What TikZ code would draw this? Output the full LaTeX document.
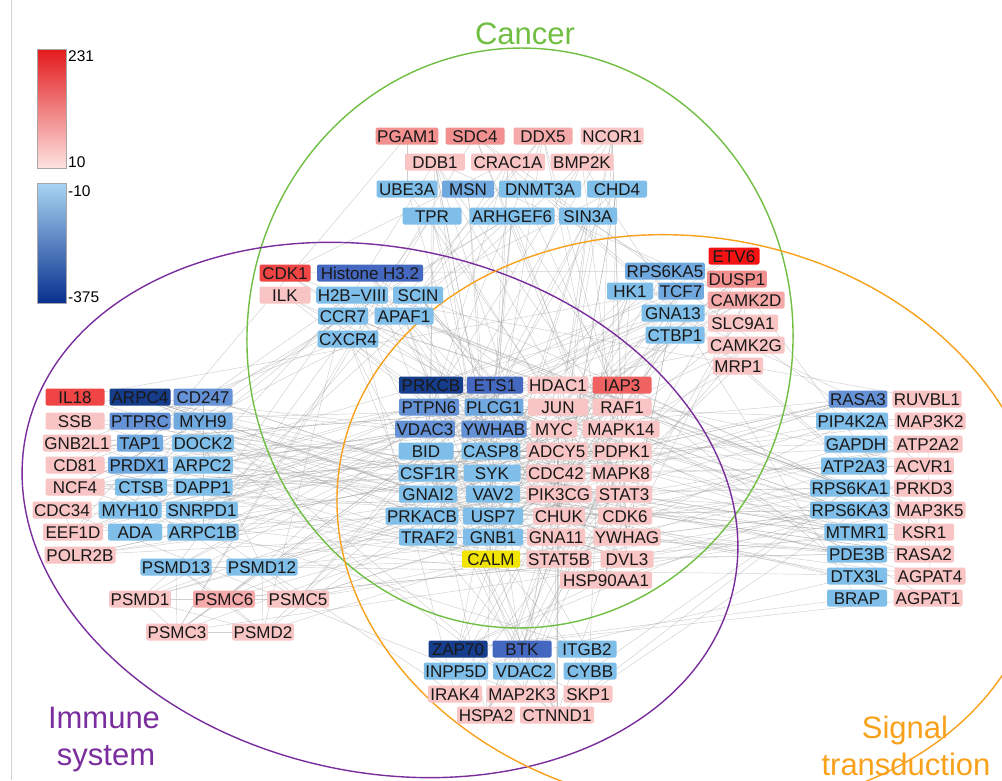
\documentclass[tikz,border=0pt]{standalone}
\usepackage{fontspec}
\setmainfont{Liberation Sans}
\pgfdeclarelayer{edgelayer}
\pgfdeclarelayer{ringlayer}
\pgfsetlayers{edgelayer,ringlayer,main}
\definecolor{clb}{HTML}{7EBEE9}
\definecolor{cmbl}{HTML}{70A8E0}
\definecolor{cmb}{HTML}{6592D6}
\definecolor{cdb}{HTML}{4467BF}
\definecolor{cxb}{HTML}{163C8C}
\definecolor{clp}{HTML}{F9C4C4}
\definecolor{cmp}{HTML}{F5A9A9}
\definecolor{csp}{HTML}{F29090}
\definecolor{crd}{HTML}{EF4545}
\definecolor{crdb}{HTML}{F06262}
\definecolor{cbrd}{HTML}{F41212}
\definecolor{cyl}{HTML}{F0E400}
\definecolor{cgreen}{HTML}{70BF43}
\definecolor{cpurple}{HTML}{7A2E9E}
\definecolor{corange}{HTML}{F9A11B}
\definecolor{cedge}{HTML}{A0A0A0}
\definecolor{legredtop}{HTML}{E31A1C}
\definecolor{legredbot}{HTML}{FDE3E1}
\definecolor{legbluetop}{HTML}{A8D4F2}
\definecolor{legbluebot}{HTML}{08308F}
\newcommand\genefont{\fontsize{17}{17}\selectfont}
\newcommand\legfont{\fontsize{15.5}{15.5}\selectfont}
\newcommand\titfont{\fontsize{31}{31}\selectfont}
\begin{document}
\begin{tikzpicture}[x=1pt,y=-1pt,
  gbox/.style={rounded corners=2pt, inner xsep=1.5pt, inner ysep=0pt,
    minimum height=17pt, text height=12.2pt, text depth=0pt,
    font=\genefont, text=black!90},
  edge/.style={draw=cedge, line width=0.45pt, opacity=0.5},
  ring/.style={line width=1.4pt},
  legbar/.style={draw=gray!70, line width=0.6pt},
  leglbl/.style={font=\legfont, anchor=west, inner sep=0pt},
  title/.style={font=\titfont, anchor=base, inner sep=0pt}]
\useasboundingbox (0,0) rectangle (1002,780);
\begin{pgfonlayer}{edgelayer}
\fill[white] (0,0) rectangle (1002,780);
\end{pgfonlayer}
% ---------------- gene nodes ----------------
\foreach \nm/\px/\py/\w/\c/\t [count=\i] in {
PRKCB/431/385/64/cxb/PRKCB, ETS1/495/385/56/cdb/ETS1, HDAC1/558/385/60/clp/HDAC1, IAP3/622/385/59/crdb/IAP3,
PTPN6/429/407/60/cmb/PTPN6, PLCG1/494/407/58/cmbl/PLCG1, JUN/558/407/60/clp/JUN, RAF1/622/407/59/clp/RAF1,
VDAC3/425/429/57/cmb/VDAC3, YWHAB/494/429/65/cmb/YWHAB, MYC/554/429/46/clp/MYC, MAPK14/621/429/77/clp/MAPK14,
BID/426/451/55/clb/BID, CASP8/491/451/58/clb/CASP8, ADCY5/557/451/61/clp/ADCY5, PDPK1/622/451/59/clp/PDPK1,
CSF1R/428/473/59/clb/CSF1R, SYK/492/473/57/clb/SYK, CDC42/556/473/58/clp/CDC42, MAPK8/621/473/61/clp/MAPK8,
GNAI2/428/494/58/clb/GNAI2, VAV2/493/494/54/clb/VAV2, PIK3CG/559/494/64/clp/PIK3CG, STAT3/624/494/56/clp/STAT3,
PRKACB/422/516/71/clb/PRKACB, USP7/493/516/60/clb/USP7, CHUK/559/516/52/clp/CHUK, CDK6/625/516/54/clp/CDK6,
TRAF2/428/537/58/clb/TRAF2, GNB1/493/537/60/clb/GNB1, GNA11/556/537/58/clp/GNA11, YWHAG/627/537/67/clp/YWHAG,
CALM/491/559/58/cyl/CALM, STAT5B/559/559/65/clp/STAT5B, DVL3/627/559/53/clp/DVL3, HSP90AA1/606/580/92/clp/HSP90AA1,
PGAM1/407/136/62/csp/PGAM1, SDC4/475/136/59/csp/SDC4, DDX5/543/136/59/cmp/DDX5, NCOR1/612/136/63/clp/NCOR1,
DDB1/435/162/60/clp/DDB1, CRAC1A/508/162/74/clp/CRAC1A, BMP2K/582/162/63/clp/BMP2K,
UBE3A/407/189/61/clb/UBE3A, MSN/468/189/52/cmbl/MSN, DNMT3A/540/189/82/clb/DNMT3A, CHD4/617/189/60/clb/CHD4,
TPR/432/216/59/clb/TPR, ARHGEF6/512/216/85/clb/ARHGEF6, SIN3A/588/216/58/clb/SIN3A,
CDK1/285/273/51/crd/CDK1, HistoneH3/370/273/106/cdb/Histone H3.2, ILK/285/295/51/clp/ILK,
H2BVIII/352/295/70/clb/H2B−VIII, SCIN/418/295/50/clb/SCIN, CCR7/343/316/50/clb/CCR7,
APAF1/404/316/59/clb/APAF1, CXCR4/348/339/60/clb/CXCR4,
ETV6/734/256/51/cbrd/ETV6, RPS6KA5/665/271/78/cmbl/RPS6KA5, DUSP1/737/279/59/csp/DUSP1,
HK1/630/291/46/clb/HK1, TCF7/681/291/45/cmbl/TCF7, CAMK2D/746/300/77/cmp/CAMK2D,
GNA13/673/313/63/clb/GNA13, SLC9A1/743/323/70/clp/SLC9A1, CTBP1/675/335/59/clb/CTBP1,
CAMK2G/746/345/77/clp/CAMK2G, MRP1/738/366/50/clp/MRP1,
IL18/75/397/59/crd/IL18, ARPC4/140/397/61/cxb/ARPC4, CD247/203/397/59/cmb/CD247,
SSB/75/421/59/clp/SSB, PTPRC/140/421/61/cmb/PTPRC, MYH9/203/421/59/cmbl/MYH9,
GNB2L1/77/443/66/clp/GNB2L1, TAP1/140/443/46/cmbl/TAP1, DOCK2/203/443/59/clb/DOCK2,
CD81/75/465/59/clp/CD81, PRDX1/138/465/58/cmbl/PRDX1, ARPC2/203/465/59/clb/ARPC2,
NCF4/75/487/59/clp/NCF4, CTSB/141/487/52/clb/CTSB, DAPP1/203/487/59/clb/DAPP1,
CDC34/62/510/59/clp/CDC34, MYH10/130/510/63/clb/MYH10, SNRPD1/202/510/70/clb/SNRPD1,
EEF1D/73/532/60/clp/EEF1D, ADA/135/532/54/clb/ADA, ARPC1B/203/532/71/clb/ARPC1B,
POLR2B/80/555/71/clp/POLR2B,
PSMD13/176/567/68/clb/PSMD13, PSMD12/262/567/68/clb/PSMD12, PSMD1/140/599/56/clp/PSMD1,
PSMC6/224/599/61/cmp/PSMC6, PSMC5/298/599/62/clp/PSMC5, PSMC3/177/632/60/clp/PSMC3, PSMD2/263/632/60/clp/PSMD2,
RASA3/858/399/58/cmb/RASA3, RUVBL1/927/399/66/clp/RUVBL1, PIP4K2A/852/421/70/clb/PIP4K2A, MAP3K2/930/421/71/clp/MAP3K2,
GAPDH/856/444/63/clb/GAPDH, ATP2A2/928/444/69/clp/ATP2A2, ATP2A3/854/466/66/clb/ATP2A3, ACVR1/924/466/59/clp/ACVR1,
RPS6KA1/850/488/75/clb/RPS6KA1, PRKD3/924/488/59/clp/PRKD3, RPS6KA3/850/510/79/clb/RPS6KA3, MAP3K5/930/510/71/clp/MAP3K5,
MTMR1/856/532/63/clb/MTMR1, KSR1/924/532/60/clp/KSR1, PDE3B/857/554/60/clb/PDE3B, RASA2/924/554/60/clp/RASA2,
DTX3L/857/576/60/clb/DTX3L, AGPAT4/930/576/71/clp/AGPAT4, BRAP/857/598/60/clb/BRAP, AGPAT1/928/598/69/clp/AGPAT1,
ZAP70/458/649/59/cxb/ZAP70, BTK/522/649/59/cdb/BTK, ITGB2/587/649/59/clb/ITGB2,
INPP5D/456/671/63/clb/INPP5D, VDAC2/524/671/62/clb/VDAC2, CYBB/590/671/53/clb/CYBB,
IRAK4/455/694/54/clp/IRAK4, MAP2K3/522/694/70/clp/MAP2K3, SKP1/588/694/49/clp/SKP1,
HSPA2/486/715/58/clp/HSPA2, CTNND1/557/715/74/clp/CTNND1}
{\node[gbox, fill=\c, minimum width=\w pt, alias=n\i] (\nm) at (\px,\py) {\t};}
% ---------------- interaction edges ----------------
\begin{pgfonlayer}{edgelayer}
\pgfmathsetseed{2718}
\foreach \k in {1,...,290}{
  \pgfmathtruncatemacro\ea{random(1,36)}
  \pgfmathtruncatemacro\eb{random(37,129)}
  \draw[edge] (n\ea.center) -- (n\eb.center);}
\foreach \k in {1,...,70}{
  \pgfmathtruncatemacro\ea{random(1,36)}
  \pgfmathtruncatemacro\eb{random(1,36)}
  \draw[edge] (n\ea.center) -- (n\eb.center);}
\foreach \k in {1,...,90}{
  \pgfmathtruncatemacro\ea{random(37,129)}
  \pgfmathtruncatemacro\eb{random(37,129)}
  \draw[edge] (n\ea.center) -- (n\eb.center);}
\foreach \ea/\eb in {PSMD13/PSMD12, PSMD13/PSMD1, PSMD13/PSMC6, PSMD13/PSMC3, PSMD13/PSMD2,
  PSMD12/PSMC6, PSMD12/PSMC5, PSMD12/PSMD2, PSMD12/PSMD1, PSMD1/PSMC6, PSMC6/PSMC5,
  PSMC6/PSMC3, PSMC6/PSMD2, PSMC3/PSMD2, PSMC5/PSMD2, PSMD1/PSMC3, PSMD1/PSMD2}
  {\draw[edge] (\ea.center) -- (\eb.center);}
\end{pgfonlayer}
% ---------------- category rings ----------------
\begin{pgfonlayer}{ringlayer}
\coordinate (cc) at (520,338);
\coordinate (ci) at (380,510);
\coordinate (cs) at (690,522);
\draw[ring, draw=cgreen, rotate around={-3:(cc)}] (cc) ellipse [x radius=273, y radius=290];
\draw[ring, draw=cpurple, rotate around={-12.6:(ci)}] (ci) ellipse [x radius=362, y radius=262];
\draw[ring, draw=corange, rotate around={-10:(cs)}] (cs) ellipse [x radius=355, y radius=285];
\end{pgfonlayer}
\draw[gray!35, line width=0.8pt] (11,0) -- (11,780);
% ---------------- titles ----------------
\node[title, text=cgreen] (tcancer) at (525,44) {Cancer};
\node[title, text=cpurple] (timm1) at (104,728) {Immune};
\node[title, text=cpurple] (timm2) at (106,765) {system};
\node[title, text=corange] (tsig1) at (905,738) {Signal};
\node[title, text=corange] (tsig2) at (906,775) {transduction};
% ---------------- legend ----------------
\shade[top color=legredtop, bottom color=legredbot] (37,49) rectangle (66,168);
\draw[legbar] (37,49) rectangle (66,168);
\shade[top color=legbluetop, bottom color=legbluebot] (37,183) rectangle (66,303);
\draw[legbar] (37,183) rectangle (66,303);
\node[leglbl] (l231) at (68,56) {231};
\node[leglbl] (l10) at (68,162) {10};
\node[leglbl] (lm10) at (68,191) {-10};
\node[leglbl] (lm375) at (68,297) {-375};
\end{tikzpicture}
\end{document}
